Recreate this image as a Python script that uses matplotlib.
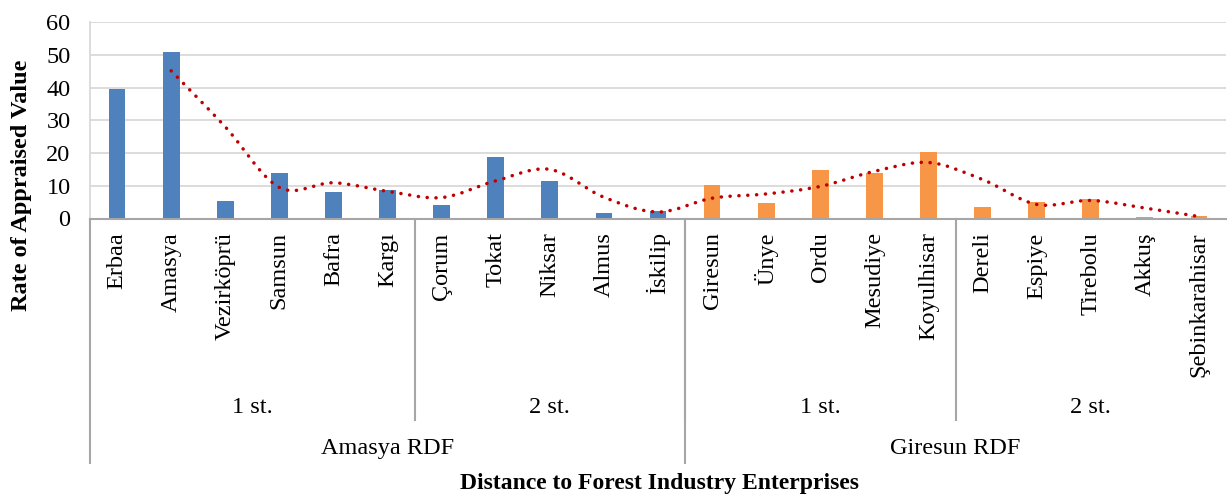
import matplotlib.pyplot as plt
from matplotlib.path import Path
from matplotlib.patches import PathPatch
import numpy as np

plt.rcParams['font.family'] = ['Liberation Serif', 'DejaVu Serif']

# category data
places = ['Erbaa', 'Amasya', 'Vezirköprü', 'Samsun', 'Bafra', 'Kargı',
          'Çorum', 'Tokat', 'Niksar', 'Almus', 'İskilip',
          'Giresun', 'Ünye', 'Ordu', 'Mesudiye', 'Koyulhisar',
          'Dereli', 'Espiye', 'Tirebolu', 'Akkuş', 'Şebinkarahisar']
values = [39.4, 50.8, 5.2, 13.8, 8.0, 8.6,
          4.2, 18.7, 11.4, 1.6, 2.3,
          10.2, 4.7, 14.8, 13.9, 20.3,
          3.5, 5.0, 5.9, 0.4, 0.7]
# 2-period moving average trendline, starts at 2nd category
trend = [45.1, 28.0, 9.5, 10.9, 8.3, 6.4, 11.5, 15.0, 6.5, 2.0,
         6.2, 7.5, 9.8, 14.4, 17.1, 11.9, 4.3, 5.5, 3.2, 0.6]
# second level groups (label, n categories)
stages = [('1 st.', 6), ('2 st.', 5), ('1 st.', 5), ('2 st.', 5)]
# top level groups
rdfs = [('Amasya RDF', 11), ('Giresun RDF', 10)]

blue = '#4F81BD'
orange = '#F79646'
colors = [blue] * 11 + [orange] * 10
FS = 17.5

fig = plt.figure(figsize=(12.28, 4.96), dpi=100)
ax = fig.add_axes([90 / 1228, 1 - 218.5 / 496, 1 - 90 / 1228 - 2 / 1228, 196.5 / 496])

x = np.arange(len(places))
ax.bar(x, values, width=0.31, color=colors, zorder=2)

# smoothed trendline (Catmull-Rom -> bezier)
tx = x[1:].astype(float)
ty = np.array(trend)
pts = np.column_stack([tx, ty])
verts = [pts[0]]
codes = [Path.MOVETO]
for i in range(len(pts) - 1):
    p0 = pts[i - 1] if i > 0 else pts[i]
    p1, p2 = pts[i], pts[i + 1]
    p3 = pts[i + 2] if i + 2 < len(pts) else pts[i + 1]
    c1 = p1 + (p2 - p0) / 6
    c2 = p2 - (p3 - p1) / 6
    verts += [c1, c2, p2]
    codes += [Path.CURVE4] * 3
patch = PathPatch(Path(verts, codes), fill=False, edgecolor='#C00000',
                  linewidth=2.5, linestyle=(0, (0.05, 2.5)), capstyle='round', zorder=3)
ax.add_patch(patch)

ax.set_xlim(-0.5, len(places) - 0.5)
ax.set_ylim(0, 60)
ax.set_yticks(range(0, 61, 10))
ax.tick_params(axis='y', length=0, labelsize=FS, pad=14)
ax.set_xticks([])
ax.grid(axis='y', color='#D9D9D9', linewidth=1.3, zorder=0)
for s in ['top', 'right']:
    ax.spines[s].set_visible(False)
ax.spines['left'].set_color('#D9D9D9')
ax.spines['left'].set_linewidth(1.3)
ax.spines['bottom'].set_color('#A6A6A6')
ax.spines['bottom'].set_linewidth(1.5)

tr = ax.get_xaxis_transform()
for i, name in enumerate(places):
    ax.text(i, -0.07, name, rotation=90, ha='center', va='top',
            fontsize=FS, transform=tr)

lvl2_bottom = -1.025
lvl3_bottom = -1.245
start = 0
for label, n in stages:
    ax.text(start + n / 2 - 0.5, -0.96, label, ha='center', va='center',
            fontsize=FS, transform=tr)
    start += n
    if start < len(places):
        ax.plot([start - 0.5, start - 0.5], [0, lvl2_bottom], color='#A6A6A6',
                lw=1.5, transform=tr, clip_on=False)

start = 0
ax.plot([-0.5, -0.5], [0, lvl3_bottom], color='#A6A6A6', lw=1.5,
        transform=tr, clip_on=False)
for label, n in rdfs:
    ax.text(start + n / 2 - 0.5, -1.17, label, ha='center', va='center',
            fontsize=FS, transform=tr)
    start += n
    if start < len(places):
        ax.plot([start - 0.5, start - 0.5], [0, lvl3_bottom], color='#A6A6A6',
                lw=1.5, transform=tr, clip_on=False)

fig.text(0.5 + 45 / 1228, 1 - 483 / 496, 'Distance to Forest Industry Enterprises',
         ha='center', va='center', fontsize=17, fontweight='bold')
fig.text(22 / 1228, 1 - 185 / 496, 'Rate of Appraised Value', rotation=90,
         ha='center', va='center', fontsize=17.5, fontweight='bold')

fig.savefig('out.png', dpi=100)
